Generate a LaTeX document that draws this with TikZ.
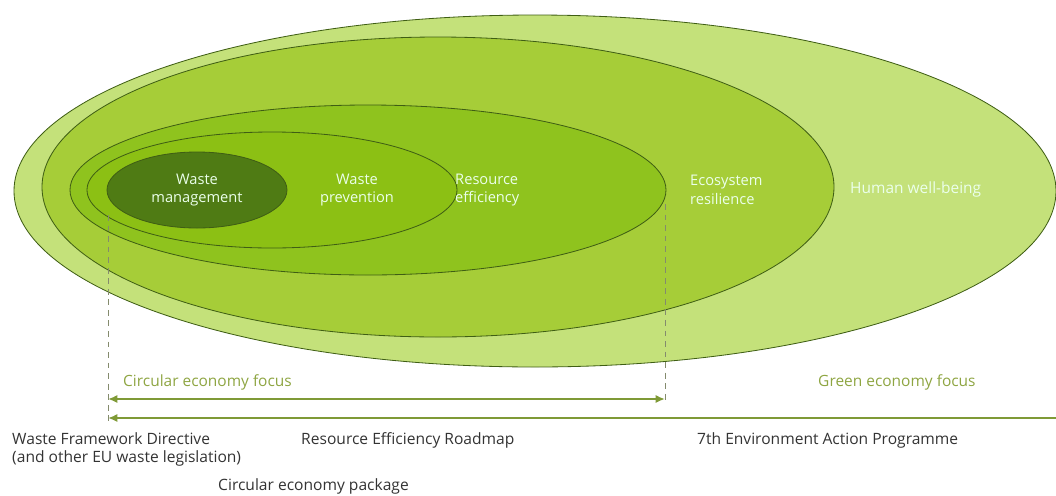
\documentclass[tikz,border=0pt]{standalone}
\usepackage{fontspec}
\setmainfont{Open Sans}
\usetikzlibrary{arrows.meta}

\definecolor{wellbeing}{HTML}{C4E17A}
\definecolor{ecosys}{HTML}{A6CD38}
\definecolor{resource}{HTML}{8FC31E}
\definecolor{prevent}{HTML}{8CC014}
\definecolor{manage}{HTML}{4F7B14}
\definecolor{rim}{HTML}{3F5E14}
\definecolor{olive}{HTML}{8EA542}
\definecolor{arrowol}{HTML}{7F9A36}
\definecolor{txt}{HTML}{333333}

\tikzset{
  ring/.style={draw=rim,line width=0.7pt},
  lab/.style={text=white!92!green,font=\fontsize{12.5}{16}\selectfont,align=center,inner sep=0pt},
  focus/.style={text=olive,font=\fontsize{13.2}{15}\selectfont,anchor=west,inner sep=0pt},
  doc/.style={text=txt,font=\fontsize{13.3}{15.4}\selectfont,anchor=west,align=left,inner sep=0pt},
  span/.style={draw=arrowol,line width=2pt},
  tip/.style={-{Latex[length=8pt,width=7pt]}},
  guide/.style={draw=gray!70!olive,line width=0.8pt,dash pattern=on 5pt off 4pt}
}

\begin{document}
\begin{tikzpicture}[x=0.03cm,y=-0.03cm]
\useasboundingbox (0,0) rectangle (1056,495);

\draw[ring,fill=wellbeing] (535,191) ellipse [x radius=521, y radius=176];
\draw[ring,fill=ecosys] (438,187) ellipse [x radius=396, y radius=150];
\draw[ring,fill=resource] (368,190) ellipse [x radius=298, y radius=85];
\draw[ring,fill=prevent] (272,190) ellipse [x radius=185, y radius=58];
\draw[ring,fill=manage] (197,190) ellipse [x radius=90, y radius=38];

\node[lab] (wm) at (197,190) {Waste\\management};
\node[lab] (wp) at (357,190) {Waste\\prevention};
\node[lab,anchor=west,align=left] (re) at (455,190) {Resource\\efficiency};
\node[lab,anchor=west,align=left] (er) at (690,190) {Ecosystem\\resilience};
\node[lab,anchor=west,font=\fontsize{13.2}{16}\selectfont] (hw) at (850,189) {Human well-being};

%%%%%%%%
\coordinate (g1top) at (108,215);
\coordinate (g1bot) at (108,422);
\coordinate (g2top) at (665,204);
\coordinate (g2bot) at (665,402);
\path (g1top) edge[guide] (g1bot);
\path (g2top) edge[guide] (g2bot);

%%%%%%%%
\coordinate (ce1) at (108,399);
\coordinate (ce2) at (665,399);
\coordinate (ge1) at (1056,418);
\coordinate (ge2) at (108,418);
\path (ce1) edge[span,{Latex[length=8pt,width=7pt]}-{Latex[length=8pt,width=7pt]}] (ce2);
\path (ge1) edge[span,tip] (ge2);

\node[focus] (cef) at (123,382) {Circular economy focus};
\node[focus] (gef) at (818,382) {Green economy focus};

%%%%%%%%%%%%
\node[doc] (wfd) at (12,449) {Waste Framework Directive\\(and other EU waste legislation)};
\node[doc] (rer) at (301,440) {Resource Efficiency Roadmap};
\node[doc] (eap) at (697,440) {7th Environment Action Programme};
\node[doc] (cep) at (218,486) {Circular economy package};

\end{tikzpicture}
\end{document}
